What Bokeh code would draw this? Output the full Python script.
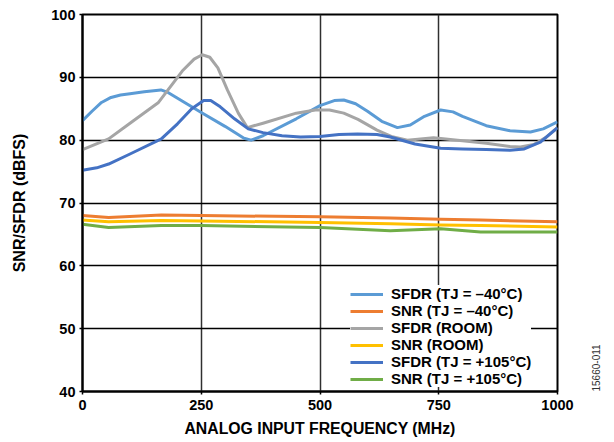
from bokeh.plotting import figure
from bokeh.models import Range1d, FixedTicker, LinearAxis
from bokeh.embed import file_html
from bokeh.resources import INLINE
from math import pi

# ---- data ----
sfdr_m40_f = [0, 20, 40, 60, 80, 100, 130, 165, 180, 250, 300, 340, 355, 380, 450, 500, 530, 550, 575, 600, 630, 663, 690, 720, 754, 780, 800, 850, 900, 943, 970, 1000]
sfdr_m40   = [83.1, 84.6, 86.0, 86.8, 87.2, 87.4, 87.7, 88.0, 87.6, 84.4, 82.2, 80.3, 80.0, 80.7, 83.4, 85.5, 86.3, 86.4, 85.8, 84.6, 83.0, 82.0, 82.4, 83.8, 84.8, 84.5, 83.8, 82.3, 81.5, 81.3, 81.8, 82.9]

sfdr_room_f = [0, 55, 100, 160, 180, 210, 235, 252, 268, 285, 305, 328, 347, 380, 450, 490, 520, 550, 580, 620, 650, 684, 739, 800, 850, 900, 922, 950, 975, 1000]
sfdr_room   = [78.5, 80.2, 82.7, 86.0, 88.0, 91.0, 92.9, 93.6, 93.2, 91.5, 88.0, 84.3, 82.0, 82.7, 84.3, 84.8, 84.8, 84.3, 83.3, 81.6, 80.6, 80.0, 80.4, 79.9, 79.5, 79.0, 78.9, 79.3, 80.4, 82.0]

sfdr_p105_f = [0, 30, 55, 100, 166, 200, 230, 255, 270, 290, 320, 349, 380, 420, 459, 500, 540, 579, 620, 648, 700, 754, 800, 850, 900, 930, 964, 1000]
sfdr_p105   = [75.2, 75.6, 76.2, 77.8, 80.2, 82.6, 85.0, 86.3, 86.3, 85.3, 83.4, 81.8, 81.2, 80.7, 80.5, 80.6, 80.9, 81.0, 80.9, 80.5, 79.4, 78.7, 78.6, 78.5, 78.4, 78.6, 79.7, 82.0]

snr_f      = [0, 55, 166, 250, 500, 648, 754, 838, 1000]
snr_m40    = [68.0, 67.7, 68.1, 68.0, 67.8, 67.6, 67.4, 67.3, 67.0]
snr_room   = [67.3, 67.0, 67.2, 67.15, 66.9, 66.7, 66.5, 66.4, 66.2]
snr_p105   = [66.6, 66.1, 66.4, 66.4, 66.1, 65.6, 65.9, 65.4, 65.4]

x_ticks = [0, 250, 500, 750, 1000]
y_ticks = [40, 50, 60, 70, 80, 90, 100]
figure_code = "15660-011"

FONT = "Liberation Sans"

p = figure(width=614, height=442, output_backend="svg", toolbar_location=None,
           x_range=Range1d(0, 1000), y_range=Range1d(40, 100),
           min_border_left=82, min_border_right=57, min_border_top=14, min_border_bottom=51)

p.outline_line_color = "black"
p.outline_line_width = 2
p.outline_line_alpha = 1

for ax in (p.xaxis[0], p.yaxis[0]):
    ax.axis_line_color = "black"
    ax.axis_line_width = 2
    ax.major_tick_line_color = "black"
    ax.major_tick_line_width = 1.5
    ax.major_tick_out = 3
    ax.major_tick_in = 0
    ax.minor_tick_line_color = None
    ax.major_label_text_font = FONT
    ax.major_label_text_font_style = "bold"
    ax.major_label_text_font_size = "14.5px"
    ax.major_label_text_color = "black"
    ax.axis_label_text_font = FONT
    ax.axis_label_text_font_style = "bold"
    ax.axis_label_text_color = "black"

p.xaxis.axis_label_text_font_size = "15.8px"
p.yaxis.axis_label_text_font_size = "16px"
p.xaxis.ticker = FixedTicker(ticks=x_ticks)
p.yaxis.ticker = FixedTicker(ticks=y_ticks)
p.xaxis.axis_label = "ANALOG INPUT FREQUENCY (MHz)"
p.yaxis.axis_label = "SNR/SFDR (dBFS)"
p.xaxis.major_label_standoff = 5
p.yaxis.major_label_standoff = 4
p.xaxis.axis_label_standoff = 7
p.yaxis.axis_label_standoff = 20

p.xgrid.grid_line_color = "#303030"
p.xgrid.grid_line_width = 1.5
p.ygrid.grid_line_color = "black"
p.ygrid.grid_line_width = 1.5

# right-side figure code, written as a rotated tick label of a bare axis
code_axis = LinearAxis(ticker=FixedTicker(ticks=[40]), major_label_overrides={40: figure_code},
                       major_label_orientation=pi / 2, axis_line_color=None,
                       major_tick_line_color=None, minor_tick_line_color=None,
                       major_label_standoff=32, major_label_text_font=FONT,
                       major_label_text_font_size="10px", major_label_text_color="#333333")
p.add_layout(code_axis, "right")

lw = 3
p.line(sfdr_m40_f, sfdr_m40, color="#5B9BD5", line_width=lw, line_join="round", legend_label="SFDR (TJ = –40°C)")
p.line(snr_f, snr_m40, color="#ED7D31", line_width=lw, line_join="round", legend_label="SNR (TJ = –40°C)")
p.line(sfdr_room_f, sfdr_room, color="#A5A5A5", line_width=lw, line_join="round", legend_label="SFDR (ROOM)")
p.line(snr_f, snr_room, color="#FFC000", line_width=lw, line_join="round", legend_label="SNR (ROOM)")
p.line(sfdr_p105_f, sfdr_p105, color="#4472C4", line_width=lw, line_join="round", legend_label="SFDR (TJ = +105°C)")
p.line(snr_f, snr_p105, color="#70AD47", line_width=lw, line_join="round", legend_label="SNR (TJ = +105°C)")

lg = p.legend[0]
lg.location = (268, 4)
lg.padding = 4
lg.margin = 0
lg.spacing = 0
lg.glyph_width = 33
lg.glyph_height = 16
lg.label_height = 16
lg.label_standoff = 8
lg.label_text_font = FONT
lg.label_text_font_style = "bold"
lg.label_text_font_size = "15px"
lg.label_text_color = "black"
lg.border_line_color = None
lg.background_fill_color = "white"
lg.background_fill_alpha = 1

open("out.html", "w").write(file_html(p, INLINE))
